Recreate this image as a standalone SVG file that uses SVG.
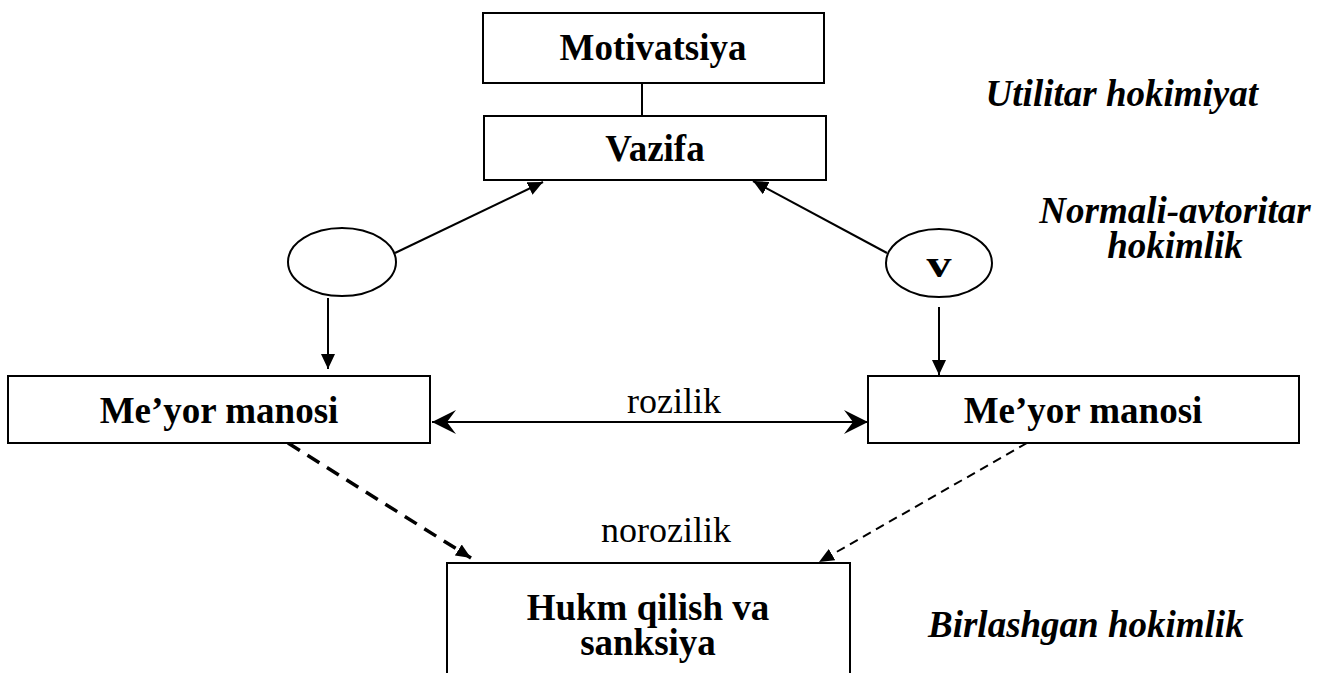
<svg xmlns="http://www.w3.org/2000/svg" width="1329" height="673" viewBox="0 0 1329 673">
  <defs>
    <marker id="tri" markerUnits="userSpaceOnUse" markerWidth="16" markerHeight="14" refX="15" refY="7" orient="auto">
      <path d="M0,0 L15,7 L0,14 z" fill="#000"/>
    </marker>
    <marker id="triSmall" markerUnits="userSpaceOnUse" markerWidth="16" markerHeight="14" refX="15" refY="7" orient="auto">
      <path d="M0,0.5 L15,7 L0,13.5 z" fill="#000"/>
    </marker>
    <marker id="stealth" markerUnits="userSpaceOnUse" markerWidth="26" markerHeight="26" refX="24" refY="12" orient="auto-start-reverse">
      <path d="M24,12 L0,0 L9,12 L0,24 z" fill="#000"/>
    </marker>
  </defs>
  <style>
    .box { fill: #fff; stroke: #000; stroke-width: 2; }
    .ell { fill: #fff; stroke: #000; stroke-width: 2; }
    .lbl { font-family: "Liberation Serif", "Times New Roman", serif; font-weight: bold; font-size: 37px; fill: #000; text-anchor: middle; }
    .edge { font-family: "Liberation Serif", "Times New Roman", serif; font-size: 36px; fill: #000; text-anchor: middle; }
    .side { font-family: "Liberation Serif", "Times New Roman", serif; font-weight: bold; font-style: italic; font-size: 37px; fill: #000; }
    .ln { stroke: #000; stroke-width: 2; fill: none; }
  </style>
  <rect width="1329" height="673" fill="#fff"/>

  <!-- connectors -->
  <g id="connectors">
    <line class="ln" x1="642" y1="83" x2="642" y2="116"/>
    <line class="ln" x1="395" y1="253" x2="543" y2="182" marker-end="url(#tri)"/>
    <line class="ln" x1="887" y1="253" x2="753" y2="181" marker-end="url(#tri)"/>
    <line class="ln" x1="328" y1="298" x2="328" y2="369" marker-end="url(#tri)"/>
    <line class="ln" x1="939" y1="307" x2="939" y2="375" marker-end="url(#tri)"/>
    <line class="ln" x1="432" y1="422" x2="868" y2="422" marker-start="url(#stealth)" marker-end="url(#stealth)"/>
    <line x1="288" y1="443" x2="471" y2="558" stroke="#000" stroke-width="3.5" stroke-dasharray="14 9" marker-end="url(#triSmall)"/>
    <line x1="1027" y1="443" x2="819" y2="562" stroke="#000" stroke-width="2" stroke-dasharray="9 6" marker-end="url(#triSmall)"/>
    <text class="edge" x="674" y="413">rozilik</text>
    <text class="edge" x="666" y="542">norozilik</text>
  </g>

  <g id="motivatsiya">
    <rect class="box" x="483" y="13" width="341" height="70"/>
    <text class="lbl" x="653" y="60">Motivatsiya</text>
  </g>
  <g id="vazifa">
    <rect class="box" x="484" y="116" width="342" height="64"/>
    <text class="lbl" x="655" y="161">Vazifa</text>
  </g>
  <g id="ellipse-left">
    <ellipse class="ell" cx="342" cy="262" rx="54" ry="34"/>
  </g>
  <g id="ellipse-right">
    <ellipse class="ell" cx="939" cy="263" rx="53" ry="34"/>
    <text class="lbl" x="939" y="277" textLength="25" lengthAdjust="spacingAndGlyphs">v</text>
  </g>
  <g id="meyor-left">
    <rect class="box" x="8" y="376" width="422" height="67"/>
    <text class="lbl" x="219" y="423">Me’yor manosi</text>
  </g>
  <g id="meyor-right">
    <rect class="box" x="868" y="376" width="431" height="67"/>
    <text class="lbl" x="1083" y="423">Me’yor manosi</text>
  </g>
  <g id="hukm">
    <rect class="box" x="447" y="563" width="403" height="130"/>
    <text class="lbl" x="648" y="620">Hukm qilish va</text>
    <text class="lbl" x="648" y="655">sanksiya</text>
  </g>

  <g id="side-labels">
    <text class="side" x="1258" y="106" text-anchor="end">Utilitar hokimiyat</text>
    <text class="side" x="1175" y="223" text-anchor="middle">Normali-avtoritar</text>
    <text class="side" x="1175" y="258" text-anchor="middle">hokimlik</text>
    <text class="side" x="928" y="637">Birlashgan hokimlik</text>
  </g>
</svg>
